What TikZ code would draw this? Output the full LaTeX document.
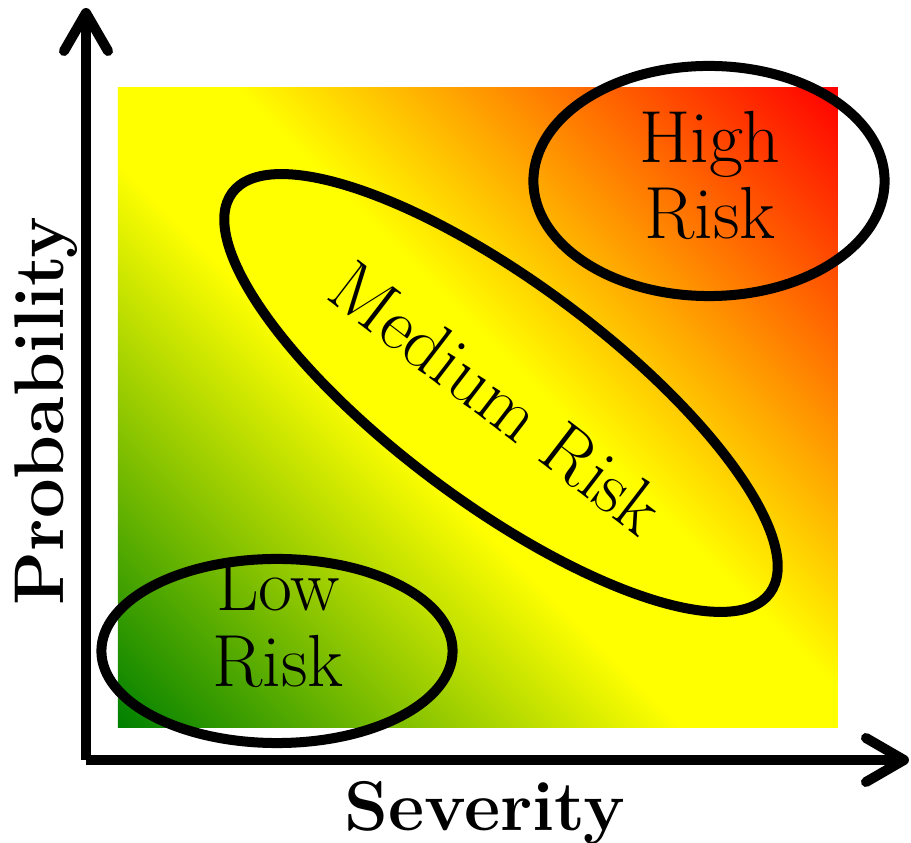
\documentclass[tikz,border=0pt]{standalone}
\usetikzlibrary{arrows.meta,shapes.geometric}

\definecolor{lowgreen}{RGB}{0,128,0}
\pgfdeclarehorizontalshading{riskmap}{100bp}{color(0bp)=(lowgreen); color(14.6bp)=(lowgreen); color(44bp)=(yellow); color(54bp)=(yellow); color(85.4bp)=(red); color(100bp)=(red)}

\begin{document}
\begin{tikzpicture}[
        x=0.01cm, y=-0.01cm,
        axis/.style={line width=0.1cm, -{Straight Barb[round, length=3.8mm, width=4.4mm]}},
        zone/.style={draw, ellipse, line width=0.1cm, inner sep=0pt},
        risklabel/.style={align=center, font=\fontsize{21}{21.6}\selectfont},
        axislabel/.style={font=\fontsize{20}{24}\selectfont\bfseries}
    ]
    \useasboundingbox (0,0) rectangle (911,843);

    % Risk map
    \shade[shading=riskmap, shading angle=45] (118,88) rectangle (838,728);

    % Axes
    \coordinate (origin) at (86,760);
    \coordinate (ytip) at (86,8);
    \coordinate (xtip) at (909,760);
    \draw[axis] (origin) -- (ytip);
    \draw[axis] (origin) -- (xtip);

    % Risk zones
    \node[zone, minimum width=3.51cm, minimum height=1.84cm] (low) at (277,651) {};
    \node[zone, minimum width=3.51cm, minimum height=2.30cm] (high) at (709,181) {};
    \node[zone, minimum width=6.7cm, minimum height=2.2cm, rotate=-36.7] (medium) at (501,393) {};

    \node[risklabel] (lowtext) at (278,624) {Low\\Risk};
    \node[risklabel] (hightext) at (710,175) {High\\Risk};
    \node[risklabel, rotate=-37.5] (mediumtext) at (497,398) {Medium Risk};

    % Axis labels
    \node[axislabel, anchor=base] (xlabel) at (485,831) {Severity};
    \node[axislabel, anchor=base, rotate=90] (ylabel) at (64,411) {Probability};

\end{tikzpicture}
\end{document}
